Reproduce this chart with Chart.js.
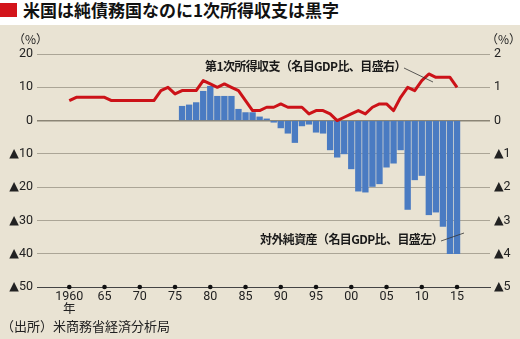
<!DOCTYPE html>
<html lang="ja">
<head>
<meta charset="UTF-8"/>
<title>米国は純債務国なのに1次所得収支は黒字</title>
<script src="https://cdn.jsdelivr.net/npm/chart.js"></script>
<style>
  body { margin:0; width:520px; height:339px; overflow:hidden; position:relative; background:#e9e3d3; font-family:"Noto Sans CJK JP", sans-serif; }
  #head { position:absolute; left:0; top:0; width:520px; height:25px; background:#fff; }
  #mark { position:absolute; left:0; top:3px; width:17px; height:14px; background:#d3141b; }
  #title { position:absolute; left:23px; top:1px; font-size:17px; line-height:17px; font-weight:700; color:#111; white-space:nowrap; }
  .txt { position:absolute; white-space:nowrap; color:#222; }
  .note { font-size:12px; line-height:12px; font-weight:700; letter-spacing:-0.6px; color:#1a1a1a; }
  canvas { position:absolute; left:0; top:0; }
</style>
</head>
<body>
  <div id="head"><div id="mark"></div><div id="title">米国は純債務国なのに1次所得収支は黒字</div></div>
  <canvas id="chart" width="520" height="339"></canvas>
  <div class="txt" style="left:13px;top:33px;font-size:12px;line-height:12px;">（%）</div>
  <div class="txt" style="left:486px;top:33px;font-size:12px;line-height:12px;">（%）</div>
  <div class="txt note" style="left:205px;top:60px;">第1次所得収支（名目GDP比、目盛右）</div>
  <div class="txt note" style="left:260px;top:233px;">対外純資産（名目GDP比、目盛左）</div>
  <div class="txt" style="left:1px;top:319px;font-size:13px;line-height:13px;">（出所）米商務省経済分析局</div>

<script>
  // 第1次所得収支（名目GDP比、%、右目盛）
  const lineYears = [1960, 1961, 1962, 1963, 1964, 1965, 1966, 1967, 1968, 1969,
                     1970, 1971, 1972, 1973, 1974, 1975, 1976, 1977, 1978, 1979,
                     1980, 1981, 1982, 1983, 1984, 1985, 1986, 1987, 1988, 1989,
                     1990, 1991, 1992, 1993, 1994, 1995, 1996, 1997, 1998, 1999,
                     2000, 2001, 2002, 2003, 2004, 2005, 2006, 2007, 2008, 2009,
                     2010, 2011, 2012, 2013, 2014, 2015];
  const incomeBalance = [0.6, 0.7, 0.7, 0.7, 0.7, 0.7, 0.6, 0.6, 0.6, 0.6,
                         0.6, 0.6, 0.6, 0.9, 1.0, 0.8, 0.9, 0.9, 0.9, 1.2,
                         1.1, 1.0, 1.1, 1.0, 0.9, 0.6, 0.3, 0.3, 0.4, 0.4,
                         0.5, 0.4, 0.4, 0.4, 0.2, 0.3, 0.3, 0.2, 0.0, 0.1,
                         0.2, 0.3, 0.2, 0.4, 0.5, 0.5, 0.3, 0.7, 1.0, 0.9,
                         1.2, 1.4, 1.3, 1.3, 1.3, 1.0];

  // 対外純資産（名目GDP比、%、左目盛）
  const barYears = [1976, 1977, 1978, 1979, 1980, 1981, 1982, 1983, 1984, 1985,
                    1986, 1987, 1988, 1989, 1990, 1991, 1992, 1993, 1994, 1995,
                    1996, 1997, 1998, 1999, 2000, 2001, 2002, 2003, 2004, 2005,
                    2006, 2007, 2008, 2009, 2010, 2011, 2012, 2013, 2014, 2015];
  const netAssets = [4.3, 4.7, 5.4, 8.8, 10.3, 7.3, 7.3, 7.3, 3.4, 2.4,
                     2.4, 1.1, 0.5, -0.5, -2.2, -3.8, -6.6, -1.6, -1.1, -3.5,
                     -3.8, -8.8, -11.0, -10.0, -14.5, -21.2, -21.5, -19.8, -19.0, -14.0,
                     -12.8, -8.8, -26.7, -17.8, -16.5, -28.3, -27.5, -31.8, -40.0, -40.0];

  const xTickValues = [1960, 1965, 1970, 1975, 1980, 1985, 1990, 1995, 2000, 2005, 2010, 2015];
  const xTickLabels = [['1960', '年'], '65', '70', '75', '80', '85', '90', '95', '00', '05', '10', '15'];

  const tickFont = { family: 'Roboto, "DejaVu Sans", "Noto Sans CJK JP", sans-serif', size: 12.5, lineHeight: 1.0 };
  const tri = v => v < 0 ? '▲' + (-v) : String(v);

  const extras = {
    id: 'extras',
    afterDatasetsDraw(chart) {
      const { ctx, chartArea, scales: { x } } = chart;
      ctx.save();
      ctx.fillStyle = '#111';
      xTickValues.forEach(v => {
        ctx.beginPath();
        ctx.arc(x.getPixelForValue(v), chartArea.bottom, 2.3, 0, Math.PI * 2);
        ctx.fill();
      });
      ctx.strokeStyle = '#333';
      ctx.lineWidth = 0.8;
      ctx.beginPath();
      ctx.moveTo(404, 68); ctx.lineTo(433, 82);
      ctx.moveTo(441, 241); ctx.lineTo(464, 233);
      ctx.stroke();
      ctx.restore();
    }
  };

  new Chart(document.getElementById('chart'), {
    data: {
      datasets: [
        {
          type: 'line',
          data: lineYears.map((y, i) => ({ x: y, y: incomeBalance[i] })),
          yAxisID: 'yR',
          borderColor: '#cc1218',
          borderWidth: 3,
          pointRadius: 0,
          borderJoinStyle: 'round',
          tension: 0,
          order: 0
        },
        {
          type: 'bar',
          data: barYears.map((y, i) => ({ x: y, y: netAssets[i] })),
          yAxisID: 'yL',
          backgroundColor: '#4a7bc2',
          barThickness: 5.7,
          order: 1
        }
      ]
    },
    options: {
      responsive: false,
      animation: false,
      layout: { padding: { top: 54, left: 0, right: 0, bottom: 0 } },
      plugins: { legend: { display: false }, tooltip: { enabled: false } },
      scales: {
        x: {
          type: 'linear',
          min: 1958.1,
          max: 2017.0,
          afterFit: s => { s.height = 52; },
          afterBuildTicks: s => { s.ticks = xTickValues.map(v => ({ value: v })); },
          grid: { display: false, drawTicks: false },
          border: { display: true, color: '#444', width: 1 },
          ticks: {
            padding: 4,
            color: '#222',
            font: tickFont,
            maxRotation: 0,
            autoSkip: false,
            callback: v => xTickLabels[xTickValues.indexOf(v)]
          }
        },
        yL: {
          position: 'left',
          min: -50,
          max: 20,
          afterFit: s => { s.width = 37; },
          border: { display: false },
          grid: {
            drawTicks: false,
            color: c => c.tick.value === 0 ? '#8b8576' : (c.tick.value === -50 ? '#444' : '#aba596'),
            lineWidth: c => c.tick.value === 0 ? 1.5 : 1
          },
          ticks: { stepSize: 10, padding: 4, color: '#222', font: tickFont, callback: tri }
        },
        yR: {
          position: 'right',
          min: -5,
          max: 2,
          afterFit: s => { s.width = 30; },
          border: { display: false },
          grid: { display: false, drawTicks: false },
          ticks: { stepSize: 1, padding: 4, color: '#222', font: tickFont, callback: tri }
        }
      }
    },
    plugins: [extras]
  });
</script>
</body>
</html>
